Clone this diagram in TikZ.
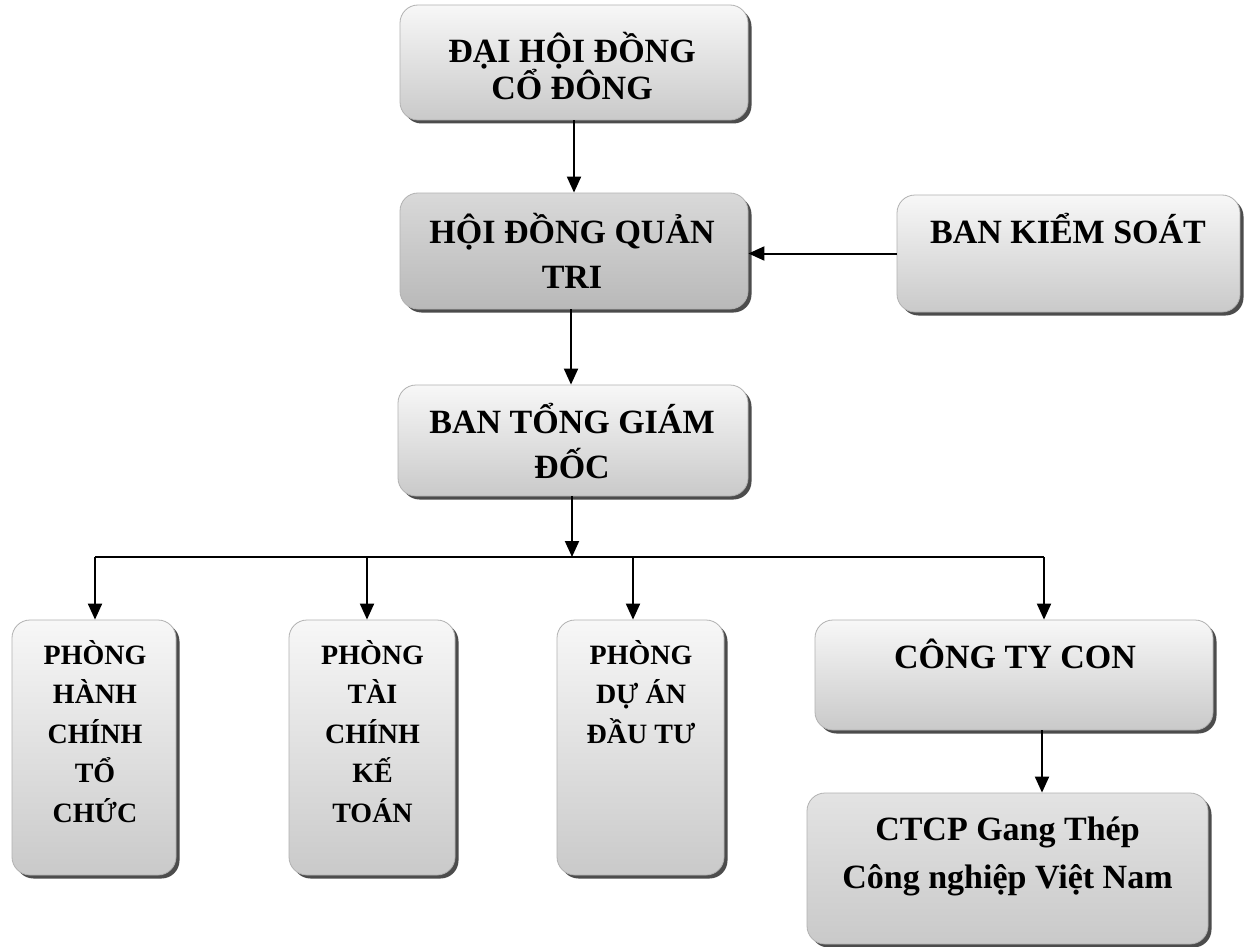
\documentclass[tikz,border=0pt]{standalone}
\usepackage{fontspec}
\setmainfont{Liberation Serif}
\usetikzlibrary{arrows.meta,shadows}
\newcommand\stk[1]{\vtop{\lineskiplimit=-100pt\lineskip=0pt\halign{\hfil##\hfil\cr#1\crcr}}}
\begin{document}
\begin{tikzpicture}[x=1pt,y=-1pt,
  box/.style={draw=gray!60, line width=0.8pt, rounded corners=18pt,
    top color=gray!6, bottom color=gray!42,
    drop shadow={shadow xshift=3.5pt, shadow yshift=-3.5pt, fill=black!70, opacity=1}},
  darkbox/.style={box, top color=gray!30, bottom color=gray!55},
  midbox/.style={box, top color=gray!22, bottom color=gray!42},
  arr/.style={-{Triangle[length=16pt,width=14pt]}, line width=2pt},
  bigtxt/.style={font=\fontsize{34}{#1}\selectfont\bfseries, anchor=base, inner sep=0pt},
  smalltxt/.style={font=\fontsize{28}{39.5}\selectfont\bfseries, anchor=base, inner sep=0pt}]
\useasboundingbox[fill=white] (0,0) rectangle (1248,947);

% boxes
\node[box, minimum width=348pt, minimum height=115pt] (dhd) at (574,62.5) {};
\node[darkbox, minimum width=348pt, minimum height=116pt] (hdqt) at (574,251) {};
\node[box, minimum width=343pt, minimum height=117pt] (bks) at (1068.5,253.5) {};
\node[box, minimum width=350pt, minimum height=111pt] (btgd) at (573,440.5) {};
\node[box, minimum width=164pt, minimum height=255pt] (p1) at (94,747.5) {};
\node[box, minimum width=166pt, minimum height=255pt] (p2) at (372,747.5) {};
\node[box, minimum width=167pt, minimum height=255pt] (p3) at (640.5,747.5) {};
\node[box, minimum width=398pt, minimum height=110pt] (con) at (1014,675) {};
\node[midbox, minimum width=401pt, minimum height=151pt] (ctcp) at (1007.5,868.5) {};

% texts
\node[bigtxt=37] (tdhd) at (572,63) {\stk{ĐẠI HỘI ĐỒNG\cr CỔ ĐÔNG}};
\node[bigtxt=45] (thdqt) at (572,243) {\stk{HỘI ĐỒNG QUẢN\cr TRI}};
\node[bigtxt=45] (tbks) at (1068,243) {BAN KIỂM SOÁT};
\node[bigtxt=45] (tbtgd) at (572,433) {\stk{BAN TỔNG GIÁM\cr ĐỐC}};
\node[smalltxt] (tp1) at (95,664) {\stk{PHÒNG\cr HÀNH\cr CHÍNH\cr TỔ\cr CHỨC}};
\node[smalltxt] (tp2) at (372.5,664) {\stk{PHÒNG\cr TÀI\cr CHÍNH\cr KẾ\cr TOÁN}};
\node[smalltxt] (tp3) at (641,664) {\stk{PHÒNG\cr DỰ ÁN\cr ĐẦU TƯ}};
\node[bigtxt=45] (tcon) at (1015,668) {CÔNG TY CON};
\node[bigtxt=48] (tctcp) at (1007.5,840) {\stk{CTCP Gang Thép\cr Công nghiệp Việt Nam}};

% connectors
\coordinate (j) at (572,557);
\coordinate (b1) at (95,557);
\coordinate (b2) at (367,557);
\coordinate (b3) at (633,557);
\coordinate (b4) at (1044,557);

\draw[arr] (dhd.south) -- (hdqt.north);
\draw[arr] ([xshift=-3pt]hdqt.south) -- ([xshift=-3pt]btgd.north -| hdqt.south);
\draw[arr] (bks.west) -- (bks.west -| hdqt.east);
\draw[arr] (btgd.south -| j) -- (j);
\draw[line width=2pt] (b1) -- (b4);
\draw[arr] (b1) -- (b1 |- p1.north);
\draw[arr] (b2) -- (b2 |- p2.north);
\draw[arr] (b3) -- (b3 |- p3.north);
\draw[arr] (b4) -- (b4 |- con.north);
\draw[arr] ([xshift=-2pt]b4 |- con.south) -- ([xshift=-2pt]b4 |- ctcp.north);
\end{tikzpicture}
\end{document}
